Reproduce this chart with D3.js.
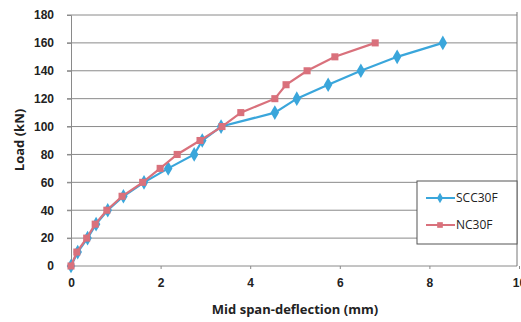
<!DOCTYPE html>
<html>
<head>
<meta charset="utf-8">
<script src="https://cdn.jsdelivr.net/npm/d3@7/dist/d3.min.js"></script>
<style>
  body { margin: 0; background: #fff; }
  svg { display: block; font-family: "Open Sans", "Noto Sans", sans-serif; }
</style>
</head>
<body>
<div id="container"></div>
<script>
// load steps (kN) and mid span deflections (mm)
var loads = [0, 10, 20, 30, 40, 50, 60, 70, 80, 90, 100, 110, 120, 130, 140, 150, 160]
var sccDefl = [0, 0.15, 0.37, 0.56, 0.82, 1.17, 1.63, 2.17, 2.75, 2.93, 3.35, 4.55, 5.04, 5.74, 6.47, 7.28, 8.3]
var ncDefl = [0, 0.13, 0.35, 0.54, 0.8, 1.14, 1.6, 1.99, 2.37, 2.88, 3.37, 3.79, 4.55, 4.8, 5.27, 5.89, 6.79]
var seriesNames = ['SCC30F', 'NC30F']
var xTicks = [0, 2, 4, 6, 8, 10]
var yTicks = [0, 20, 40, 60, 80, 100, 120, 140, 160, 180]

var width = 521, height = 322
var plotLeft = 71, plotRight = 519, plotTop = 15, plotBottom = 266

var svg = d3.select('#container').append('svg')
  .attr('width', width)
  .attr('height', height)

var x = d3.scaleLinear().domain([0, 10]).range([plotLeft, plotRight])
var y = d3.scaleLinear().domain([0, 180]).range([plotBottom, plotTop])

// horizontal gridlines
svg.append('g')
  .selectAll('line')
  .data(yTicks)
  .enter().append('line')
  .attr('x1', plotLeft - 4)
  .attr('x2', 517)
  .attr('y1', d => y(d))
  .attr('y2', d => y(d))
  .attr('stroke', '#8a8a8a')
  .attr('stroke-width', 1)

// right border of plot area
svg.append('line')
  .attr('x1', 517).attr('x2', 517)
  .attr('y1', plotTop - 3).attr('y2', plotBottom)
  .attr('stroke', '#777')

// y axis
var yAxis = svg.append('g')
  .attr('transform', 'translate(' + plotLeft + ',0)')
  .call(d3.axisLeft(y).tickValues(yTicks).tickSize(4).tickPadding(13))
yAxis.select('.domain').attr('stroke', '#8a8a8a')
yAxis.selectAll('.tick line').attr('stroke', '#8a8a8a')
yAxis.selectAll('text')
  .attr('font-size', 12).attr('font-weight', 'bold').attr('fill', '#222')

// x axis
var xAxis = svg.append('g')
  .attr('transform', 'translate(0,' + plotBottom + ')')
  .call(d3.axisBottom(x).tickValues(xTicks).tickSize(3).tickPadding(9))
xAxis.select('.domain').remove()
xAxis.selectAll('.tick line').attr('stroke', '#8a8a8a')
xAxis.selectAll('text')
  .attr('font-size', 12).attr('font-weight', 'bold').attr('fill', '#222')

// axis titles
svg.append('text')
  .attr('x', 295).attr('y', 314)
  .attr('text-anchor', 'middle')
  .attr('font-size', 13).attr('font-weight', 'bold').attr('fill', '#222')
  .text('Mid span-deflection (mm)')

svg.append('text')
  .attr('transform', 'translate(24,140) rotate(-90)')
  .attr('text-anchor', 'middle')
  .attr('font-size', 13).attr('font-weight', 'bold').attr('fill', '#222')
  .text('Load (kN)')

var colors = ['#3aa6db', '#d9717c']
var data = [sccDefl, ncDefl].map(function (defl, i) {
  return { name: seriesNames[i], color: colors[i], points: defl.map((d, j) => ({ x: d, y: loads[j] })) }
})

var line = d3.line().x(d => x(d.x)).y(d => y(d.y))

data.forEach(function (s, i) {
  var g = svg.append('g')
  g.append('path')
    .attr('d', line(s.points))
    .attr('fill', 'none')
    .attr('stroke', s.color)
    .attr('stroke-width', 2.2)
  var sym = i === 0 ? d3.symbolDiamond : d3.symbolSquare
  g.selectAll('path.m')
    .data(s.points)
    .enter().append('path')
    .attr('class', 'm')
    .attr('transform', d => 'translate(' + x(d.x) + ',' + y(d.y) + ')')
    .attr('d', d3.symbol().type(sym).size(i === 0 ? 62 : 50))
    .attr('fill', s.color)
})

// legend
var lg = svg.append('g')
lg.append('rect')
  .attr('x', 417).attr('y', 181)
  .attr('width', 100).attr('height', 63)
  .attr('fill', '#fff')
  .attr('stroke', '#555')
  .attr('stroke-width', 1)

data.forEach(function (s, i) {
  var ly = 198 + i * 27
  lg.append('line')
    .attr('x1', 426).attr('x2', 455)
    .attr('y1', ly).attr('y2', ly)
    .attr('stroke', s.color).attr('stroke-width', 2)
  lg.append('path')
    .attr('transform', 'translate(440,' + ly + ')')
    .attr('d', d3.symbol().type(i === 0 ? d3.symbolDiamond : d3.symbolSquare).size(32))
    .attr('fill', s.color)
  lg.append('text')
    .attr('x', 456).attr('y', ly + 4)
    .attr('font-size', 12).attr('fill', '#222')
    .text(s.name)
})
</script>
</body>
</html>
